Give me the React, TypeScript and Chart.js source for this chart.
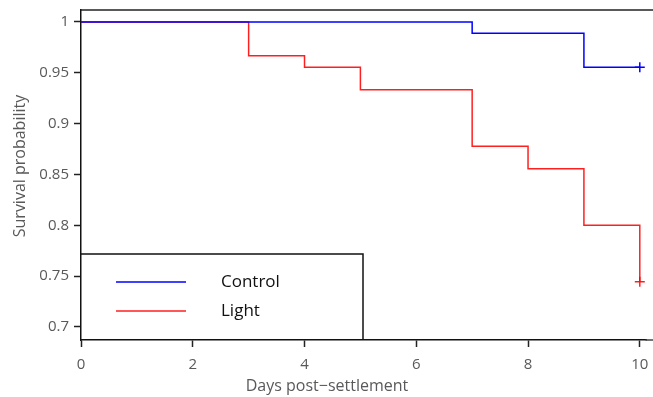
import { useEffect, useRef } from 'react';
import { Chart, registerables } from 'chart.js';

Chart.register(...registerables);

const controlDays = [0, 7, 9, 10];
const controlSurvival = [1, 0.9889, 0.9556, 0.9556];
const lightDays = [0, 3, 4, 5, 7, 8, 9, 10];
const lightSurvival = [1, 0.9667, 0.9556, 0.9333, 0.8778, 0.8556, 0.8, 0.7444];
const seriesLabels = ['Control', 'Light'];
const seriesColors = ['rgb(0,0,255)', 'rgba(255,0,0,0.88)'];
const xTicks = [0, 2, 4, 6, 8, 10];
const yTicks = [0.7, 0.75, 0.8, 0.85, 0.9, 0.95, 1];
const xTitle = 'Days post\u2212settlement';
const yTitle = 'Survival probability';

const FONT = "'Open Sans', sans-serif";
const GRAY = '#595959';

const decorPlugin = {
  id: 'decor',
  afterDraw(chart: any) {
    const { ctx, chartArea, width } = chart;
    ctx.save();
    // top border
    ctx.strokeStyle = '#222';
    ctx.lineWidth = 1.5;
    ctx.beginPath();
    ctx.moveTo(chartArea.left, chartArea.top);
    ctx.lineTo(width, chartArea.top);
    ctx.stroke();
    // bottom axis extension to the right edge
    ctx.strokeStyle = '#444';
    ctx.beginPath();
    ctx.moveTo(chartArea.right - 1, chartArea.bottom);
    ctx.lineTo(width, chartArea.bottom);
    ctx.stroke();

    // axis titles
    ctx.fillStyle = GRAY;
    ctx.font = `16px ${FONT}`;
    ctx.textAlign = 'center';
    ctx.textBaseline = 'middle';
    ctx.fillText(xTitle, 327, 386);
    ctx.save();
    ctx.translate(20, 166);
    ctx.rotate(-Math.PI / 2);
    ctx.fillText(yTitle, 0, 0);
    ctx.restore();

    // legend box
    const bx = chartArea.left;
    const by = chartArea.bottom - 86;
    const bw = 282;
    ctx.fillStyle = '#fff';
    ctx.fillRect(bx + 1, by, bw - 1, chartArea.bottom - by - 1);
    ctx.strokeStyle = '#111';
    ctx.lineWidth = 1.5;
    ctx.beginPath();
    ctx.moveTo(bx, by);
    ctx.lineTo(bx + bw, by);
    ctx.lineTo(bx + bw, chartArea.bottom);
    ctx.stroke();

    ctx.font = `17px ${FONT}`;
    ctx.textAlign = 'left';
    ctx.textBaseline = 'middle';
    chart.data.datasets.forEach((ds: any, i: number) => {
      const y = by + 28 + i * 29;
      ctx.strokeStyle = seriesColors[i];
      ctx.lineWidth = 1.5;
      ctx.beginPath();
      ctx.moveTo(bx + 35, y);
      ctx.lineTo(bx + 105, y);
      ctx.stroke();
      ctx.fillStyle = '#111';
      ctx.fillText(ds.label, bx + 140, y);
    });
    ctx.restore();
  },
};

export default function App() {
  const ref = useRef<HTMLCanvasElement>(null);
  useEffect(() => {
    if (!ref.current) return;
    const mk = (days: number[], surv: number[]) => days.map((d, i) => ({ x: d, y: surv[i] }));
    const radii = (n: number) => Array.from({ length: n }, (_, i) => (i === n - 1 ? 5 : 0));
    const chart = new Chart(ref.current, {
      type: 'line',
      data: {
        datasets: [
          {
            label: seriesLabels[0],
            data: mk(controlDays, controlSurvival),
            borderColor: seriesColors[0],
            backgroundColor: seriesColors[0],
            borderWidth: 1.5,
            stepped: 'before',
            pointStyle: 'cross',
            pointRadius: radii(controlDays.length),
            pointBorderWidth: 1.5,
            pointBorderColor: seriesColors[0],
          },
          {
            label: seriesLabels[1],
            data: mk(lightDays, lightSurvival),
            borderColor: seriesColors[1],
            backgroundColor: seriesColors[1],
            borderWidth: 1.5,
            stepped: 'before',
            pointStyle: 'cross',
            pointRadius: radii(lightDays.length),
            pointBorderWidth: 1.5,
            pointBorderColor: seriesColors[1],
          },
        ],
      },
      options: {
        animation: false,
        responsive: false,
        events: [],
        layout: { padding: { top: 10, right: 1, left: 0, bottom: 0 } },
        plugins: { legend: { display: false }, tooltip: { enabled: false } },
        scales: {
          x: {
            type: 'linear',
            min: 0,
            max: 10.12,
            afterBuildTicks: (s: any) => {
              s.ticks = xTicks.map((v) => ({ value: v }));
            },
            afterFit: (s: any) => {
              s.height = 57;
              s.paddingLeft = 0;
              s.paddingRight = 0;
            },
            ticks: {
              color: GRAY,
              font: { family: FONT, size: 15 },
              padding: 9,
              maxRotation: 0,
              autoSkip: false,
              callback: (v: any) => String(Math.round(v * 100) / 100),
            },
            grid: { drawOnChartArea: false, drawTicks: true, tickLength: 7, tickColor: '#222', tickWidth: 1.5 },
            border: { display: true, color: '#111', width: 1.5 },
          },
          y: {
            type: 'linear',
            min: 0.6872,
            max: 1.0118,
            afterBuildTicks: (s: any) => {
              s.ticks = yTicks.map((v) => ({ value: v }));
            },
            afterFit: (s: any) => {
              s.width = 81;
              s.paddingTop = 0;
              s.paddingBottom = 0;
            },
            ticks: {
              color: GRAY,
              font: { family: FONT, size: 15 },
              padding: 5,
              autoSkip: false,
              callback: (v: any) => String(Math.round(v * 100) / 100),
            },
            grid: { drawOnChartArea: false, drawTicks: true, tickLength: 7, tickColor: '#222', tickWidth: 1.5 },
            border: { display: true, color: '#111', width: 1.5 },
          },
        },
      },
      plugins: [decorPlugin],
    } as any);
    return () => chart.destroy();
  }, []);
  return (
    <div style={{ position: 'absolute', left: 0, top: 0, width: 653, height: 397, background: '#fff' }}>
      <canvas ref={ref} width={653} height={397} style={{ display: 'block' }} />
    </div>
  );
}
